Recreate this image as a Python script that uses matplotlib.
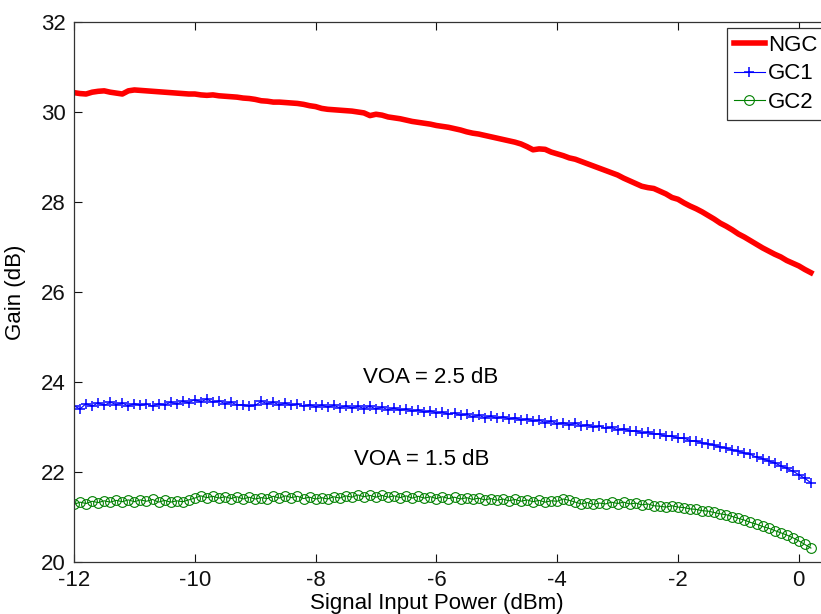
import matplotlib
matplotlib.use("Agg")
import matplotlib.pyplot as plt

# -----------------------------
# Data
# -----------------------------
power_dbm = [
    -12.0, -11.9, -11.8, -11.7, -11.6, -11.5, -11.4, -11.3, -11.2, -11.1,
    -11.0, -10.9, -10.8, -10.7, -10.6, -10.5, -10.4, -10.3, -10.2, -10.1,
    -10.0, -9.9, -9.8, -9.7, -9.6, -9.5, -9.4, -9.3, -9.2, -9.1,
    -9.0, -8.9, -8.8, -8.7, -8.6, -8.5, -8.4, -8.3, -8.2, -8.1,
    -8.0, -7.9, -7.8, -7.7, -7.6, -7.5, -7.4, -7.3, -7.2, -7.1,
    -7.0, -6.9, -6.8, -6.7, -6.6, -6.5, -6.4, -6.3, -6.2, -6.1,
    -6.0, -5.9, -5.8, -5.7, -5.6, -5.5, -5.4, -5.3, -5.2, -5.1,
    -5.0, -4.9, -4.8, -4.7, -4.6, -4.5, -4.4, -4.3, -4.2, -4.1,
    -4.0, -3.9, -3.8, -3.7, -3.6, -3.5, -3.4, -3.3, -3.2, -3.1,
    -3.0, -2.9, -2.8, -2.7, -2.6, -2.5, -2.4, -2.3, -2.2, -2.1,
    -2.0, -1.9, -1.8, -1.7, -1.6, -1.5, -1.4, -1.3, -1.2, -1.1,
    -1.0, -0.9, -0.8, -0.7, -0.6, -0.5, -0.4, -0.3, -0.2, -0.1,
    0.0, 0.1, 0.2,
]

gain_ngc = [
    30.43, 30.41, 30.40, 30.44, 30.46, 30.47, 30.44, 30.42, 30.40, 30.47,
    30.49, 30.48, 30.47, 30.46, 30.45, 30.44, 30.43, 30.42, 30.41, 30.40,
    30.40, 30.38, 30.37, 30.38, 30.36, 30.35, 30.34, 30.33, 30.31, 30.30,
    30.28, 30.25, 30.24, 30.22, 30.22, 30.21, 30.20, 30.19, 30.17, 30.14,
    30.12, 30.08, 30.06, 30.05, 30.04, 30.03, 30.02, 30.00, 29.98, 29.92,
    29.95, 29.93, 29.89, 29.87, 29.85, 29.82, 29.79, 29.77, 29.75, 29.73,
    29.70, 29.68, 29.66, 29.63, 29.60, 29.56, 29.53, 29.51, 29.48, 29.45,
    29.42, 29.39, 29.36, 29.33, 29.29, 29.23, 29.16, 29.18, 29.17, 29.11,
    29.07, 29.03, 28.98, 28.95, 28.90, 28.85, 28.80, 28.75, 28.70, 28.65,
    28.60, 28.53, 28.47, 28.41, 28.35, 28.32, 28.30, 28.24, 28.18, 28.10,
    28.06, 27.98, 27.91, 27.85, 27.78, 27.70, 27.62, 27.53, 27.46, 27.38,
    27.29, 27.22, 27.14, 27.06, 26.98, 26.91, 26.84, 26.78, 26.70, 26.64,
    26.58, 26.50, 26.43,
]

gain_gc1 = [
    23.47, 23.40, 23.52, 23.46, 23.54, 23.48, 23.55, 23.50, 23.53, 23.47,
    23.52, 23.48, 23.51, 23.46, 23.52, 23.49, 23.55, 23.51, 23.57, 23.54,
    23.61, 23.56, 23.62, 23.55, 23.58, 23.52, 23.55, 23.49, 23.50, 23.46,
    23.48, 23.57, 23.52, 23.55, 23.49, 23.53, 23.48, 23.51, 23.46, 23.50,
    23.45, 23.49, 23.44, 23.48, 23.43, 23.47, 23.42, 23.46, 23.41, 23.46,
    23.40, 23.44, 23.38, 23.42, 23.37, 23.40, 23.35, 23.38, 23.33, 23.36,
    23.31, 23.33, 23.28, 23.31, 23.26, 23.28, 23.23, 23.26, 23.21, 23.24,
    23.19, 23.23, 23.18, 23.21, 23.15, 23.18, 23.13, 23.15, 23.10, 23.13,
    23.07, 23.10, 23.05, 23.08, 23.03, 23.05, 23.00, 23.02, 22.97, 22.99,
    22.94, 22.96, 22.91, 22.92, 22.87, 22.88, 22.84, 22.84, 22.79, 22.80,
    22.75, 22.75, 22.70, 22.69, 22.65, 22.63, 22.59, 22.56, 22.53, 22.49,
    22.46, 22.42, 22.39, 22.33, 22.30, 22.24, 22.20, 22.14, 22.08, 22.02,
    21.94, 21.86, 21.76,
]

gain_gc2 = [
    21.28, 21.33, 21.30, 21.35, 21.32, 21.36, 21.33, 21.37, 21.34, 21.38,
    21.34, 21.38, 21.35, 21.39, 21.33, 21.37, 21.33, 21.36, 21.34, 21.38,
    21.42, 21.47, 21.43, 21.46, 21.42, 21.45, 21.41, 21.45, 21.40, 21.44,
    21.40, 21.43, 21.41, 21.46, 21.42, 21.47, 21.43, 21.46, 21.41, 21.44,
    21.40, 21.43, 21.40, 21.45, 21.42, 21.47, 21.44, 21.49, 21.45, 21.48,
    21.44, 21.48, 21.44, 21.47, 21.43, 21.47, 21.42, 21.46, 21.42, 21.45,
    21.41, 21.45, 21.41, 21.44, 21.40, 21.43, 21.39, 21.42, 21.38, 21.41,
    21.37, 21.40, 21.36, 21.39, 21.35, 21.38, 21.34, 21.37, 21.33, 21.36,
    21.35, 21.40, 21.37, 21.33, 21.29, 21.32, 21.28, 21.31, 21.29, 21.33,
    21.30, 21.33, 21.29, 21.31, 21.27, 21.29, 21.25, 21.24, 21.22, 21.25,
    21.22, 21.21, 21.18, 21.17, 21.14, 21.13, 21.10, 21.07, 21.05, 21.01,
    20.97, 20.93, 20.88, 20.84, 20.79, 20.75, 20.70, 20.65, 20.60, 20.54,
    20.47, 20.39, 20.31,
]

x_ticks = [-12, -10, -8, -6, -4, -2, 0]
y_ticks = [20, 22, 24, 26, 28, 30, 32]

# -----------------------------
# Plot
# -----------------------------
plt.rcParams["font.family"] = ["Liberation Sans", "DejaVu Sans"]
plt.rcParams["font.size"] = 16
plt.rcParams["axes.unicode_minus"] = False

W, H = 821, 614
fig = plt.figure(figsize=(W / 100, H / 100), dpi=100)
# axes runs past the right edge, like the cropped original
ax = fig.add_axes([74 / W, 1 - 562 / H, 755 / W, 540 / H])

ax.plot(power_dbm, gain_ngc, color="red", linewidth=4, label="NGC")
ax.plot(power_dbm, gain_gc1, color="blue", linewidth=0.8, marker="+",
        markersize=7, markeredgewidth=1.1, label="GC1")
ax.plot(power_dbm, gain_gc2, color=(0, 0.5, 0), linewidth=0.8, marker="o",
        markersize=7, markerfacecolor="none", markeredgewidth=0.8, label="GC2")

ax.set_xlim(-12, 0.5)
ax.set_ylim(20, 32)
ax.set_xticks(x_ticks)
ax.set_yticks(y_ticks)
ax.tick_params(direction="in", length=6, width=0.8, top=True, right=True,
               labelsize=16, colors="#111111", pad=6)
for s in ax.spines.values():
    s.set_linewidth(0.9)
    s.set_color("#333333")

ax.text(-6.1, 24.09, "VOA = 2.5 dB", ha="center", va="center", fontsize=16)
ax.text(-6.25, 22.27, "VOA = 1.5 dB", ha="center", va="center", fontsize=16)

fig.text(437 / W, 1 - 603 / H, "Signal Input Power (dBm)", ha="center",
         va="center", fontsize=16)
fig.text(16 / W, 1 - 292 / H, "Gain (dB)", ha="center", va="center",
         rotation=90, fontsize=16)

leg = ax.legend(loc="upper left", bbox_to_anchor=(727 / W, 1 - 28 / H),
                bbox_transform=fig.transFigure, borderaxespad=0,
                fancybox=False, framealpha=1, edgecolor="#333333",
                handlelength=1.4, handletextpad=0.15, borderpad=0.3,
                labelspacing=0.35, fontsize=16)
leg.get_frame().set_linewidth(0.9)

fig.savefig("out.png", dpi=100)
